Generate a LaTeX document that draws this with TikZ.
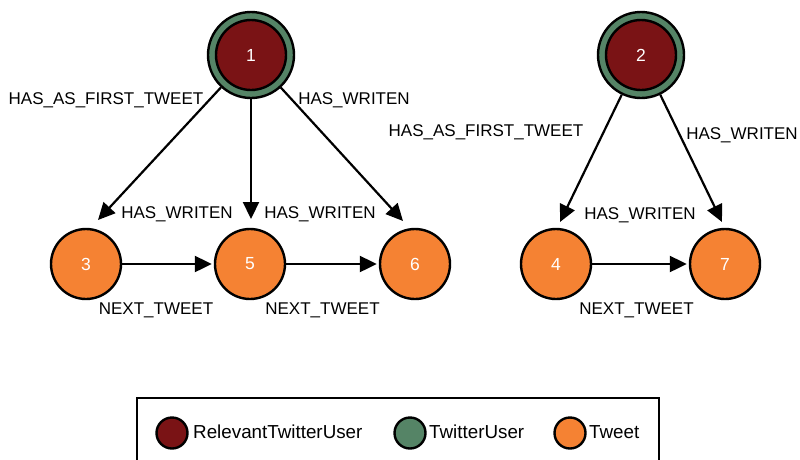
\documentclass[tikz,border=0pt]{standalone}
\usepackage{fontspec}
\setmainfont{Liberation Sans}
\usetikzlibrary{arrows.meta}
\definecolor{relred}{HTML}{7A1315}
\definecolor{usergreen}{HTML}{558466}
\definecolor{tweetorange}{HTML}{F58233}
\tikzset{
  useroutline/.style={circle, draw=black, line width=2.4pt, fill=usergreen, minimum size=86pt, inner sep=0pt},
  userinner/.style={circle, draw=black, line width=2.4pt, fill=relred, minimum size=70pt, inner sep=0pt,
    text=white, font=\fontsize{17.5}{20}\selectfont},
  tweetnode/.style={circle, draw=black, line width=2.4pt, fill=tweetorange, minimum size=70pt, inner sep=0pt,
    text=white, font=\fontsize{17.5}{20}\selectfont},
  rel/.style={draw=black, line width=2.2pt, -{Triangle[length=17pt,width=16pt]}},
  rellabel/.style={font=\fontsize{17}{20}\selectfont, inner sep=0pt},
  legdot/.style={circle, draw=black, line width=2.4pt, minimum size=31pt, inner sep=0pt},
  legtext/.style={font=\fontsize{18.8}{22}\selectfont, inner sep=0pt, anchor=west}
}
\begin{document}
\begin{tikzpicture}[x=1pt,y=-1pt]
\clip (0,0) rectangle (800,459);
\fill[white] (0,0) rectangle (800,459);

% users
\node[useroutline] (n1) at (251,55) {};
\node[userinner] (n1i) at (n1) {1};
\node[useroutline] (n2) at (641,55) {};
\node[userinner] (n2i) at (n2) {2};

% tweets
\node[tweetnode] (n3) at (86,264) {3};
\node[tweetnode] (n5) at (250,264) {5};
\node[tweetnode] (n6) at (415,264) {6};
\node[tweetnode] (n4) at (556,264) {4};
\node[tweetnode] (n7) at (725,264) {7};

% arrow tips of the user relations
\coordinate (t13) at (98,220);
\coordinate (t15) at (251,219);
\coordinate (t16) at (403,221);
\coordinate (t24) at (560,222);
\coordinate (t27) at (722,222);

\draw[rel] (n1) -- (t13);
\draw[rel] (n1) -- (t15);
\draw[rel] (n1) -- (t16);
\draw[rel] (n2) -- (t24);
\draw[rel] (n2) -- (t27);

\draw[rel, shorten >=2pt] (n3) -- (n5);
\draw[rel, shorten >=2pt] (n5) -- (n6);
\draw[rel, shorten >=2pt] (n4) -- (n7);

% relation labels
\node[rellabel] (l1) at (106,100) {HAS\_AS\_FIRST\_TWEET};
\node[rellabel] (l2) at (354,100) {HAS\_WRITEN};
\node[rellabel] (l3) at (177,214.5) {HAS\_WRITEN};
\node[rellabel] (l4) at (320,214.5) {HAS\_WRITEN};
\node[rellabel] (l5) at (156,310) {NEXT\_TWEET};
\node[rellabel] (l6) at (322.5,310) {NEXT\_TWEET};
\node[rellabel] (l7) at (486,132.5) {HAS\_AS\_FIRST\_TWEET};
\node[rellabel] (l8) at (742,135) {HAS\_WRITEN};
\node[rellabel] (l9) at (640,215) {HAS\_WRITEN};
\node[rellabel] (l10) at (636.5,310) {NEXT\_TWEET};

% legend
\draw[line width=2pt] (137,397.5) rectangle (659,475);
\node[legdot, fill=relred] (k1) at (172,433) {};
\node[legtext] (k1t) at (193,432) {RelevantTwitterUser};
\node[legdot, fill=usergreen] (k2) at (410,433) {};
\node[legtext] (k2t) at (429,432) {TwitterUser};
\node[legdot, fill=tweetorange] (k3) at (570,433) {};
\node[legtext] (k3t) at (589,432) {Tweet};
\end{tikzpicture}
\end{document}
